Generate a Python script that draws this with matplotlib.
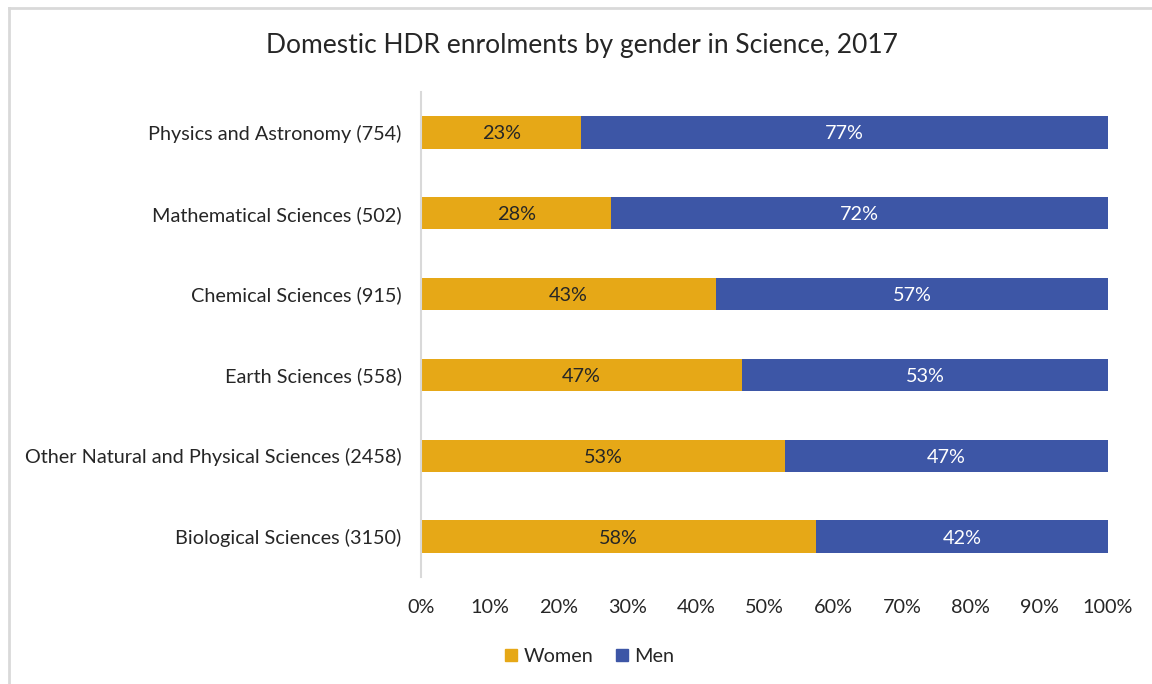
import numpy as np
import matplotlib.pyplot as plt
from matplotlib.patches import Rectangle
from matplotlib.lines import Line2D

categories = [
    "Physics and Astronomy (754)",
    "Mathematical Sciences (502)",
    "Chemical Sciences (915)",
    "Earth Sciences (558)",
    "Other Natural and Physical Sciences (2458)",
    "Biological Sciences (3150)",
]
women = [23.3, 27.7, 42.9, 46.7, 53.0, 57.5]
women_labels = ["23%", "28%", "43%", "47%", "53%", "58%"]
men_labels = ["77%", "72%", "57%", "53%", "47%", "42%"]
xticks = list(range(0, 101, 10))

women_color = "#E6A817"
men_color = "#3D56A6"
text_color = "#262626"

plt.rcParams["font.family"] = ["Lato", "DejaVu Sans"]

fig = plt.figure(figsize=(11.52, 6.84), dpi=100)
ax = fig.add_axes([0.3655, 0.1564, 0.5963, 0.7091])

women = np.array(women)
men = 100 - women
y = np.arange(len(categories))

ax.barh(y, women, height=0.4, color=women_color, label="Women")
ax.barh(y, men, left=women, height=0.4, color=men_color, label="Men")

for i in range(len(categories)):
    ax.text(women[i] / 2, y[i], women_labels[i], ha="center",
            va="center_baseline", fontsize=14.3, color=text_color)
    ax.text(women[i] + men[i] / 2, y[i], men_labels[i], ha="center",
            va="center_baseline", fontsize=14.3, color="white")

ax.set_ylim(len(categories) - 0.5, -0.5)
ax.set_xlim(0, 100)
ax.set_yticks(y)
ax.set_yticklabels(categories, fontsize=14.3, color=text_color)
ax.set_xticks(xticks)
ax.set_xticklabels([f"{t}%" for t in xticks], fontsize=14.3, color=text_color)
ax.tick_params(axis="y", length=0, pad=14)
ax.tick_params(axis="x", length=0, pad=16)

for s in ["top", "right", "bottom"]:
    ax.spines[s].set_visible(False)
ax.spines["left"].set_color("#D9D9D9")
ax.spines["left"].set_linewidth(1.5)

fig.text(0.505, 0.933, "Domestic HDR enrolments by gender in Science, 2017",
         ha="center", va="center", fontsize=19, color=text_color)

handles = [Rectangle((0, 0), 1, 1, color=women_color),
           Rectangle((0, 0), 1, 1, color=men_color)]
fig.legend(handles, ["Women", "Men"], loc="center", bbox_to_anchor=(0.512, 0.040),
           ncol=2, frameon=False, fontsize=14.3, handlelength=0.6, handleheight=0.6,
           handletextpad=0.35, columnspacing=1.1, labelcolor=text_color)

# border of the chart area
fig.add_artist(Line2D([0.0075, 0.0075], [0.0, 0.989], color="#D9D9D9", lw=2,
                      transform=fig.transFigure))
fig.add_artist(Line2D([0.0075, 1.0], [0.989, 0.989], color="#D9D9D9", lw=2,
                      transform=fig.transFigure))

fig.savefig("out.png", dpi=100)
